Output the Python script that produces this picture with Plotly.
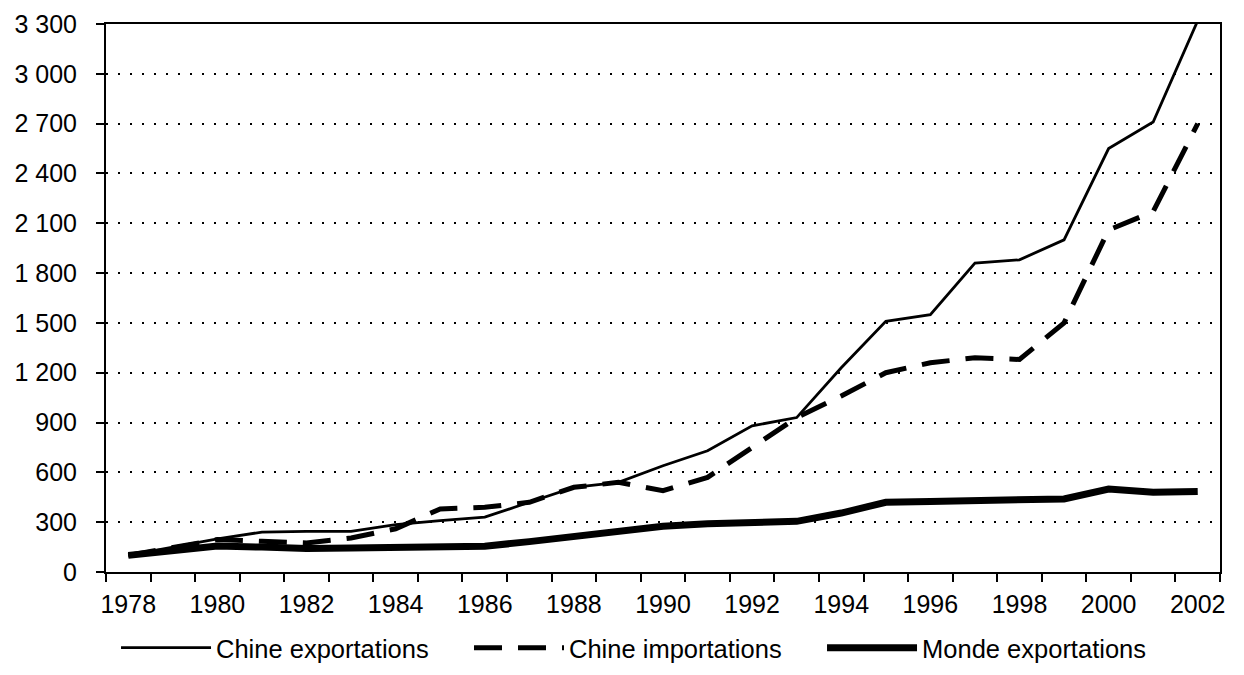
import plotly.graph_objects as go

years = list(range(1978, 2003))
chine_exportations = [100, 150, 200, 240, 245, 245, 285, 310, 330, 420, 510, 540, 640, 730,
                      880, 930, 1230, 1510, 1550, 1860, 1880, 2000, 2550, 2710, 3320]
chine_importations = [100, 150, 195, 185, 175, 205, 260, 380, 390, 420, 510, 540, 490, 570,
                      750, 930, 1060, 1200, 1260, 1290, 1280, 1500, 2060, 2170, 2700]
monde_exportations = [100, 132, 156, 150, 142, 145, 150, 150, 155, 183, 216, 245, 275, 290,
                      298, 305, 355, 420, 425, 430, 435, 440, 500, 480, 485]

x_tick_years = years[::2]
x_tick_labels = [str(y) for y in x_tick_years]
y_tick_vals = list(range(0, 3301, 300))
y_tick_labels = ["0", "300", "600", "900", "1 200", "1 500", "1 800", "2 100",
                 "2 400", "2 700", "3 000", "3 300"]

fig = go.Figure()
fig.add_trace(go.Scatter(x=years, y=chine_exportations, mode="lines",
                         name="Chine exportations",
                         line=dict(color="black", width=2.8)))
fig.add_trace(go.Scatter(x=years, y=chine_importations, mode="lines",
                         name="Chine importations",
                         line=dict(color="black", width=5, dash="28px,16px")))
fig.add_trace(go.Scatter(x=years, y=monde_exportations, mode="lines",
                         name="Monde exportations",
                         line=dict(color="black", width=7)))

fig.update_layout(
    width=1244, height=675,
    margin=dict(l=98, r=32, t=16, b=111, autoexpand=False),
    paper_bgcolor="white", plot_bgcolor="white",
    font=dict(family="Liberation Sans, Arial, sans-serif", size=25, color="black"),
    showlegend=True,
    legend=dict(orientation="h", x=0.009, xanchor="left", y=-0.096, yanchor="top",
                font=dict(size=25.5), itemwidth=90, traceorder="normal",
                entrywidth=248, entrywidthmode="pixels",
                bgcolor="rgba(0,0,0,0)"),
)
fig.update_xaxes(
    range=[1977.5, 2002.5], tickmode="array", tickvals=x_tick_years, ticktext=x_tick_labels,
    ticks="outside", ticklen=8, tickcolor="rgba(0,0,0,0)", ticklabelstandoff=1,
    minor=dict(ticks="outside", tick0=1977.5, dtick=1, ticklen=8, tickwidth=2, tickcolor="black"),
    showline=True, linecolor="black", linewidth=2, mirror=True,
    showgrid=False, zeroline=False,
)
fig.update_yaxes(
    range=[0, 3300], tickmode="array", tickvals=y_tick_vals, ticktext=y_tick_labels,
    ticks="outside", ticklen=8, tickwidth=2, tickcolor="black", ticklabelstandoff=14,
    showline=True, linecolor="black", linewidth=2, mirror=True,
    showgrid=True, gridcolor="black", gridwidth=1.5, griddash="2px,10px",
    zeroline=False,
)

fig.write_html("out.html")
